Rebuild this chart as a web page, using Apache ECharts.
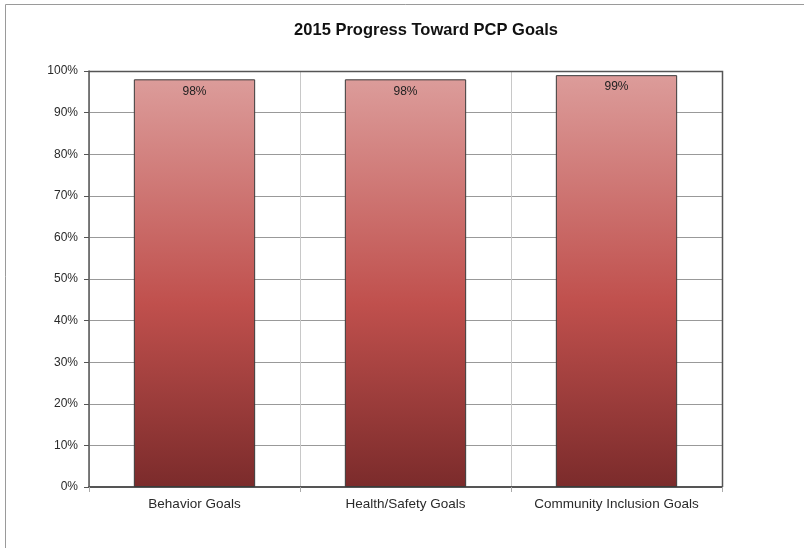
<!DOCTYPE html>
<html>
<head>
<meta charset="utf-8">
<script src="https://cdn.jsdelivr.net/npm/echarts@6/dist/echarts.min.js"></script>
<style>
  html, body { margin: 0; padding: 0; background: #fff; }
  #chart { width: 804px; height: 548px; }
</style>
</head>
<body>
<div id="chart"></div>
<script>
// categories and values (percent)
const categories = ['Behavior Goals', 'Health/Safety Goals', 'Community Inclusion Goals'];
const progress = [98, 98, 99];
const yTicks = [0, 10, 20, 30, 40, 50, 60, 70, 80, 90, 100];

const myChart = echarts.init(document.getElementById('chart'), null, {renderer: 'canvas'});

const barColor = new echarts.graphic.LinearGradient(0, 0, 0, 1, [
    {offset: 0, color: '#dc9c9a'},
    {offset: 0.55, color: '#c0504d'},
    {offset: 1, color: '#7b2b2b'}
]);

const option = {
    animation: false,
    title: {
        text: '2015 Progress Toward PCP Goals',
        left: 421,
        textAlign: 'center',
        top: 17,
        textStyle: {fontFamily: 'Liberation Sans', fontWeight: 'bold', fontSize: 16.5, color: '#111'}
    },
    graphic: [{
        type: 'rect',
        shape: {x: 5.5, y: 4.5, width: 820, height: 560},
        style: {fill: 'none', stroke: '#9a9a9a', lineWidth: 1},
        silent: true
    }, {
        // frame top/right of plot
        type: 'polyline',
        shape: {points: [[89, 71.5], [722.5, 71.5], [722.5, 487]]},
        style: {fill: 'none', stroke: '#555', lineWidth: 1.5},
        silent: true, z: 10
    }],
    grid: {left: 89, right: 82, top: 71, bottom: 61, containLabel: false},
    xAxis: {
        type: 'category',
        data: categories,
        axisLine: {lineStyle: {color: '#555', width: 2}},
        axisTick: {show: true, interval: 0, length: 5, lineStyle: {color: '#aaa'}},
        axisLabel: {interval: 0, fontFamily: 'Liberation Sans', fontSize: 13.5, color: '#2a2a2a', margin: 10},
        splitLine: {show: true, interval: 0, lineStyle: {color: '#c8c8c8', width: 1}}
    },
    yAxis: {
        type: 'value',
        min: yTicks[0],
        max: yTicks[yTicks.length - 1],
        interval: 10,
        axisLine: {show: true, lineStyle: {color: '#555', width: 1.5}},
        axisTick: {show: true, length: 5, lineStyle: {color: '#555'}},
        axisLabel: {fontFamily: 'Liberation Sans', fontSize: 12, color: '#2a2a2a', margin: 11, formatter: '{value}%'},
        splitLine: {lineStyle: {color: '#999', width: 1}}
    },
    series: [{
        type: 'bar',
        data: progress,
        barWidth: '57.5%',
        itemStyle: {color: barColor, borderColor: '#3a3a3a', borderWidth: 1},
        label: {
            show: true,
            position: 'insideTop',
            distance: 6,
            formatter: '{c}%',
            fontFamily: 'Liberation Sans',
            fontSize: 12,
            color: '#222'
        },
        z: 5
    }]
};

myChart.setOption(option);
</script>
</body>
</html>
